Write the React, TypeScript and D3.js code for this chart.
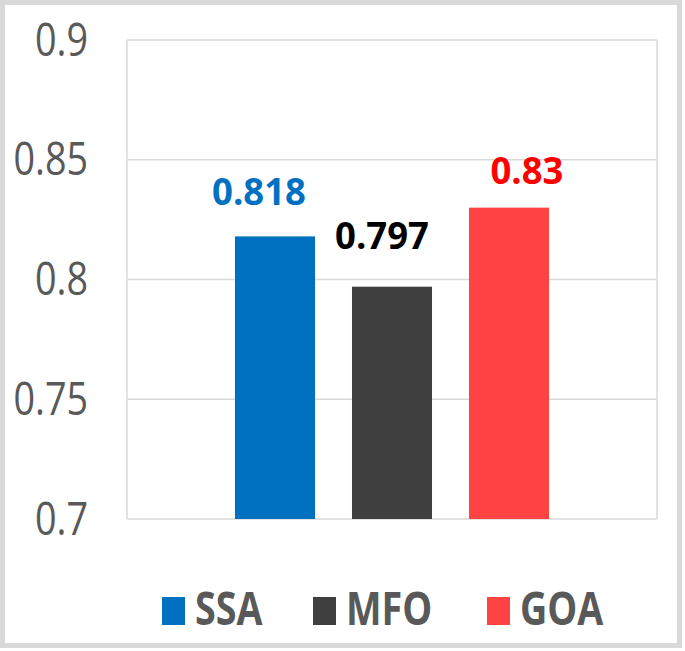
import React from "react";
import * as d3 from "d3";

const series = ["SSA", "MFO", "GOA"];
const values = [0.818, 0.797, 0.83];
const yTicks = [0.7, 0.75, 0.8, 0.85, 0.9];
const tickLabels = ["0.7", "0.75", "0.8", "0.85", "0.9"];
const valueLabels = ["0.818", "0.797", "0.83"];

const barColors = ["#0070C0", "#404040", "#FF4343"];
const labelColors = ["#0070C0", "#000000", "#FF0000"];
const labelOffsets = [
  [-16, -31],
  [-10, -38],
  [18, -24],
];

const W = 685;
const H = 651;
const plot = { left: 127, right: 657, top: 40, bottom: 519 };

export default function App() {
  const y = d3.scaleLinear().domain([0.7, 0.9]).range([plot.bottom, plot.top]);
  const x = d3
    .scaleBand<string>()
    .domain(series)
    .range([plot.left, plot.right])
    .paddingInner(0.316)
    .paddingOuter(0.923);

  const legendX = [162, 313, 487];
  const grid = "#D9D9D9";

  return (
    <svg
      width={W}
      height={H}
      style={{ position: "absolute", left: 0, top: 0, background: "#fff" }}
    >
      <rect x={2.5} y={2.5} width={677} height={643} fill="#fff" stroke={grid} strokeWidth={5} />
      {yTicks.map((t, i) => (
        <line key={"g" + i} x1={plot.left} x2={plot.right} y1={y(t)} y2={y(t)} stroke={grid} strokeWidth={1.5} />
      ))}
      <line x1={plot.left} x2={plot.left} y1={plot.top} y2={plot.bottom} stroke={grid} strokeWidth={1.5} />
      <line x1={plot.right} x2={plot.right} y1={plot.top} y2={plot.bottom} stroke={grid} strokeWidth={1.5} />
      {yTicks.map((t, i) => (
        <text
          key={"t" + i}
          transform={`translate(88,${y(t) + 15.5}) scale(0.82,1)`}
          textAnchor="end"
          fontFamily="'Open Sans', sans-serif"
          fontSize={46}
          fill="#595959"
        >
          {tickLabels[i]}
        </text>
      ))}
      {series.map((s, i) => (
        <rect
          key={"b" + s}
          x={x(s)}
          y={y(values[i])}
          width={x.bandwidth()}
          height={plot.bottom - y(values[i])}
          fill={barColors[i]}
        />
      ))}
      {series.map((s, i) => (
        <text
          key={"l" + s}
          transform={`translate(${(x(s) as number) + x.bandwidth() / 2 + labelOffsets[i][0]},${
            y(values[i]) + labelOffsets[i][1]
          }) scale(0.96,1)`}
          textAnchor="middle"
          fontFamily="'Open Sans', sans-serif"
          fontWeight={700}
          fontSize={38}
          fill={labelColors[i]}
        >
          {valueLabels[i]}
        </text>
      ))}
      {series.map((s, i) => (
        <g key={"lg" + s}>
          <rect x={legendX[i]} y={597} width={23} height={28} fill={barColors[i]} />
          <text
            transform={`translate(${legendX[i] + 33},625) scale(0.82,1)`}
            fontFamily="'Open Sans', sans-serif"
            fontWeight={700}
            fontSize={46}
            fill="#595959"
          >
            {s}
          </text>
        </g>
      ))}
    </svg>
  );
}
